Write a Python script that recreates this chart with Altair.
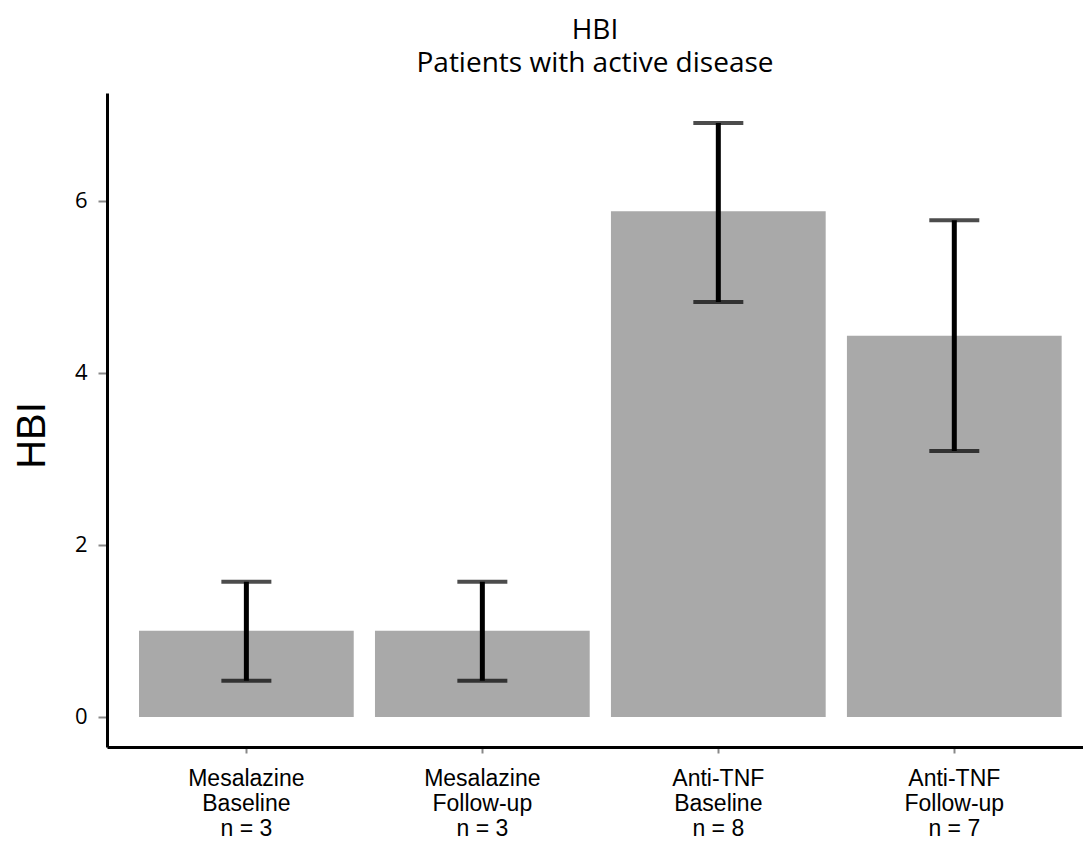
import altair as alt
import pandas as pd

groups = ["Mesalazine|Baseline|n = 3", "Mesalazine|Follow-up|n = 3",
          "Anti-TNF|Baseline|n = 8", "Anti-TNF|Follow-up|n = 7"]
means = [1.0, 1.0, 5.875, 4.43]
lower = [0.42, 0.42, 4.82, 3.09]
upper = [1.57, 1.57, 6.90, 5.77]

df = pd.DataFrame({"group": groups, "mean": means, "lo": lower, "hi": upper})

xenc = alt.X("group:N", sort=groups,
             scale=alt.Scale(paddingInner=0.09, paddingOuter=0.113, align=0.6),
             axis=alt.Axis(title=None, labelAngle=0, labelExpr="split(datum.label, '|')",
                           labelFont="Liberation Sans", labelFontSize=23, labelColor="black",
                           labelLineHeight=25, labelPadding=14, labelBaseline="top",
                           domainColor="black", domainWidth=3, tickColor="#888888",
                           tickSize=6, tickWidth=2, grid=False))
yscale = alt.Scale(domain=[-0.35, 7.25], nice=False, zero=False)

bars = alt.Chart(df).mark_bar(color="#a9a9a9").encode(
    x=xenc,
    y=alt.Y("mean:Q", scale=yscale,
            axis=alt.Axis(title="HBI", values=[0, 2, 4, 6], format="d",
                          titleFont="Liberation Sans", titleFontSize=40, titleFontWeight="normal",
                          titleColor="black", titleX=-75, titleY=342, titleAngle=270,
                          titleBaseline="middle", titleAlign="center",
                          labelFont="Open Sans", labelFontSize=22, labelColor="black",
                          labelPadding=11, domainColor="black", domainWidth=3,
                          tickColor="#888888", tickSize=9, tickWidth=2, grid=False)),
    y2=alt.Y2(datum=0),
)

rules = alt.Chart(df).mark_rule(color="black", strokeWidth=5).encode(
    x=alt.X("group:N", sort=groups), y="lo:Q", y2="hi:Q")
cap_lo = alt.Chart(df).mark_tick(color="black", size=50, thickness=4).encode(
    x=alt.X("group:N", sort=groups), y="lo:Q")
cap_hi = alt.Chart(df).mark_tick(color="black", size=50, thickness=4).encode(
    x=alt.X("group:N", sort=groups), y="hi:Q")

chart = alt.layer(bars, rules, cap_lo, cap_hi).properties(
    width=976, height=654,
    autosize=alt.AutoSizeParams(type="none"),
    padding={"left": 99, "top": 85, "right": 0, "bottom": 99},
    title=alt.TitleParams(["HBI", "Patients with active disease"], font="Open Sans",
                          fontSize=28, fontWeight="normal", color="black",
                          lineHeight=33, anchor="middle", offset=15),
).configure_view(stroke=None)

chart.save("out.html", embed_options={"renderer": "svg", "actions": False})
